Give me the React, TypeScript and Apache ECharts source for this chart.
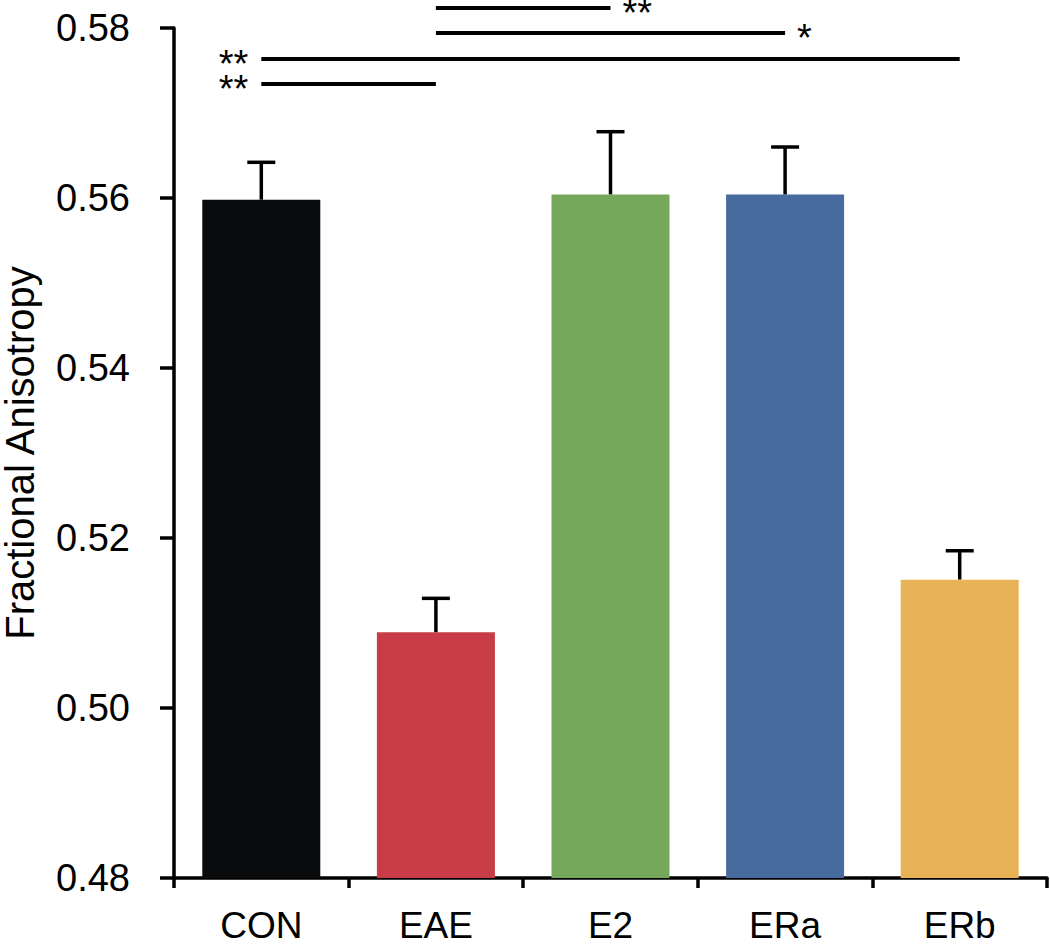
import React, { useEffect, useRef } from "react";
import * as echarts from "echarts";

const categories = ["CON", "EAE", "E2", "ERa", "ERb"];
const means = [0.5598, 0.5089, 0.5604, 0.5604, 0.5151];
const errors = [0.0044, 0.004, 0.0074, 0.0056, 0.0034];
const barColors = ["#0a0b0d", "#c73c46", "#76a85c", "#476b9e", "#e8b256"];
const yTicks = { min: 0.48, max: 0.58, interval: 0.02 };

// significance brackets
const sigFrom = [1, 1, 0, 0];
const sigTo = [2, 3, 4, 1];
const sigLevel = [0.58235, 0.5794, 0.57635, 0.5734];
const sigLabel = ["**", "*", "**", "**"];
const sigSide = ["right", "right", "left", "left"];

const FONT = "'Liberation Sans', Arial, Helvetica, sans-serif";

export default function App() {
  const ref = useRef<HTMLDivElement>(null);
  useEffect(() => {
    if (!ref.current) return;
    const chart = echarts.init(ref.current, null, { renderer: "svg" });
    chart.setOption({
      animation: false,
      textStyle: { fontFamily: FONT },
      grid: {
        left: 174,
        right: 3,
        top: 28,
        bottom: 69,
        containLabel: false,
        outerBoundsMode: "none",
      },
      xAxis: {
        type: "category",
        data: categories,
        axisLine: { lineStyle: { color: "#000", width: 3.5 } },
        axisTick: { show: true, length: 10, lineStyle: { color: "#000", width: 3.5 } },
        axisLabel: { color: "#000", fontSize: 37, fontFamily: FONT, margin: 29, lineHeight: 37 },
      },
      yAxis: {
        type: "value",
        min: yTicks.min,
        max: yTicks.max,
        interval: yTicks.interval,
        name: "Fractional Anisotropy",
        nameLocation: "middle",
        nameGap: 138,
        nameTextStyle: { color: "#000", fontSize: 40, fontFamily: FONT, lineHeight: 32 },
        axisLine: { show: true, lineStyle: { color: "#000", width: 3.5 } },
        axisTick: { show: true, length: 14, lineStyle: { color: "#000", width: 3.5 } },
        splitLine: { show: false },
        axisLabel: {
          color: "#000",
          fontSize: 38,
          fontFamily: FONT,
          margin: 44,
          formatter: (v: number) => v.toFixed(2),
        },
      },
      series: [
        {
          type: "bar",
          barWidth: 118,
          data: means.map((m, i) => ({ value: m, itemStyle: { color: barColors[i] } })),
          silent: true,
        },
        {
          type: "custom",
          silent: true,
          clip: false,
          data: means.map((m, i) => [i, m + errors[i]]),
          encode: { x: 0, y: 1 },
          renderItem: (params: any, api: any) => {
            const i = params.dataIndex;
            const base = api.coord([i, means[i]]);
            const top = api.coord([i, means[i] + errors[i]]);
            const style = { stroke: "#000", lineWidth: 3.5 };
            return {
              type: "group",
              children: [
                { type: "line", shape: { x1: base[0], y1: base[1], x2: top[0], y2: top[1] }, style },
                { type: "line", shape: { x1: top[0] - 14, y1: top[1], x2: top[0] + 14, y2: top[1] }, style },
              ],
            };
          },
        },
        {
          type: "custom",
          silent: true,
          clip: false,
          data: sigFrom.map((f, i) => [f, sigLevel[i]]),
          encode: { x: 0, y: 1 },
          renderItem: (params: any, api: any) => {
            const i = params.dataIndex;
            const a = api.coord([sigFrom[i], sigLevel[i]]);
            const b = api.coord([sigTo[i], sigLevel[i]]);
            const right = sigSide[i] === "right";
            return {
              type: "group",
              children: [
                {
                  type: "line",
                  shape: { x1: a[0], y1: a[1], x2: b[0], y2: b[1] },
                  style: { stroke: "#000", lineWidth: 4 },
                },
                {
                  type: "text",
                  x: right ? b[0] + 12 : a[0] - 13,
                  y: a[1] + 5,
                  style: {
                    text: sigLabel[i],
                    fill: "#000",
                    font: `38px ${FONT}`,
                    lineHeight: 22,
                    align: right ? "left" : "right",
                    verticalAlign: "middle",
                  },
                },
              ],
            };
          },
        },
      ],
    });
    return () => chart.dispose();
  }, []);
  return (
    <div
      ref={ref}
      style={{ position: "absolute", left: 0, top: 0, width: 1050, height: 947, background: "#fff" }}
    />
  );
}
